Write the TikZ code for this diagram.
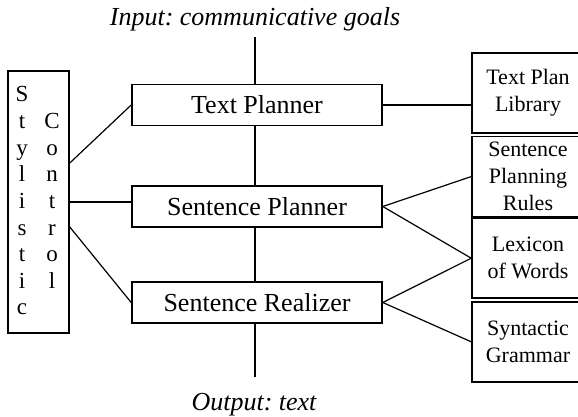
\documentclass[tikz,border=0pt]{standalone}
\usepackage{fontspec}
\setmainfont{Liberation Serif}
\usetikzlibrary{positioning}

\begin{document}
\begin{tikzpicture}[
    x=0.5pt, y=-0.5pt,
    node distance=1pt,
    stage/.style={rectangle, draw=black, fill=white, line width=0.8pt,
                  text centered, minimum width=125pt, minimum height=20.5pt,
                  font=\fontsize{13}{15}\selectfont, inner sep=0pt},
    store/.style={rectangle, draw=black, fill=white, line width=0.8pt,
                  align=center, minimum width=56pt, minimum height=40pt,
                  font=\fontsize{11}{13.5}\selectfont, inner sep=0pt},
    letter/.style={anchor=base, font=\fontsize{11.5}{13}\selectfont, inner sep=0pt},
    note/.style={anchor=base, font=\itshape\fontsize{13}{15}\selectfont\frenchspacing,
                 inner sep=0pt},
    link/.style={draw=black, line width=0.6pt},
  ]
  \useasboundingbox (0,0) rectangle (578,417);
  % main flow
  \node[note] (input) at (255,26) {Input: communicative goals};
  \node[note] (output) at (254,410) {Output: text};
  \coordinate (top) at (255,37);
  \coordinate (bot) at (255,377);
  \draw[link] (top) -- (bot);
  \node[stage] (tp) at (257,105) {Text Planner};
  \node[stage] (sp) at (257,206.5) {Sentence Planner};
  \node[stage] (sr) at (257,302.5) {Sentence Realizer};
  % stylistic control
  \node[rectangle, draw=black, line width=0.8pt, minimum width=30.5pt,
        minimum height=131pt] (sc) at (38.5,202) {};
  \foreach \ch [count=\i from 0] in {S,t,y,l,i,s,t,i,c}
    \node[letter] (sty\i) at (22,102+26.6*\i) {\ch};
  \foreach \ch [count=\i from 1] in {C,o,n,t,r,o,l}
    \node[letter] (con\i) at (52,102+26.6*\i) {\ch};
  % knowledge sources
  \node[store] (lib) at (528,93) {Text Plan\\Library};
  \node[store, below=of lib] (rules) {Sentence\\Planning\\Rules};
  \node[store, below=0pt of rules] (lex) {Lexicon\\of Words};
  \node[store, below=of lex] (gram) {Syntactic\\Grammar};
  % links
  \draw[link] ([yshift=19.5pt]sc.east) -- (tp.west);
  \draw[link] (sc.east) -- (sc.east -| sp.west);
  \draw[link] ([yshift=-12.5pt]sc.east) -- (sr.west);
  \draw[link] (tp.east) -- (tp.east -| lib.west);
  \draw[link] (sp.east) -- (rules.west);
  \draw[link] (sp.east) -- (lex.west);
  \draw[link] (sr.east) -- (lex.west);
  \draw[link] (sr.east) -- (gram.west);
\end{tikzpicture}
\end{document}
